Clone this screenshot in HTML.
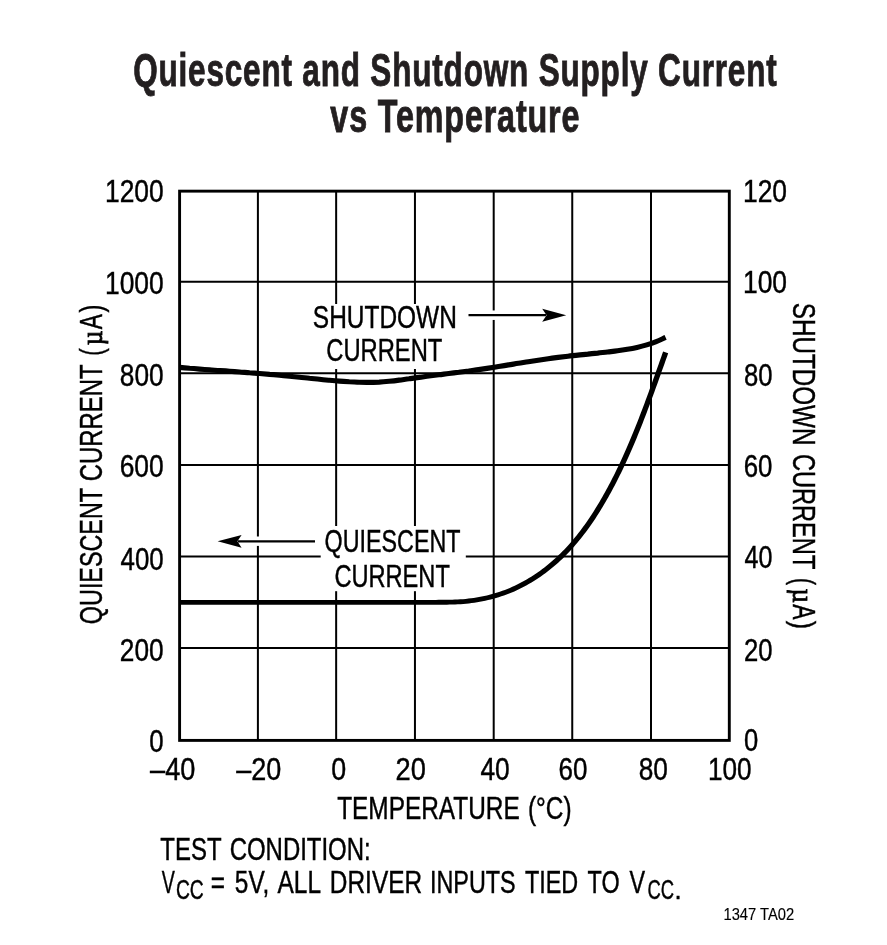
<!DOCTYPE html>
<html lang="en"><head><meta charset="utf-8"><title>Quiescent and Shutdown Supply Current vs Temperature</title>
<style>html,body{margin:0;padding:0;background:#fff}svg{display:block;font-family:"Liberation Sans",sans-serif}</style></head>
<body><svg width="887" height="945" viewBox="0 0 887 945" fill="#000">
<rect width="887" height="945" fill="#fff"/>
<path d="M257.9 191.15V740.4M336.15 191.15V740.4M414.95 191.15V740.4M493.7 191.15V740.4M572.25 191.15V740.4M651 191.15V740.4M179.6 281.65H729.3M179.6 373.25H729.3M179.6 465.1H729.3M179.6 556.6H729.3M179.6 648H729.3" fill="none" stroke="#000" stroke-width="2.0"/>
<rect x="312" y="304" width="146" height="65" fill="#fff"/>
<rect x="464" y="310.45" width="100" height="9.5" fill="#fff"/>
<rect x="320.7" y="526" width="145.1" height="65.2" fill="#fff"/>
<rect x="216" y="536.5" width="104" height="9.4" fill="#fff"/>
<rect x="179.6" y="191.15" width="549.7" height="549.25" fill="none" stroke="#000" stroke-width="2.9"/>
<path d="M468.5 315.2H546" fill="none" stroke="#000" stroke-width="2.2"/>
<path d="M566.2 315.2L542.2 308.8L546.6 315.2L542.2 321.7Z" fill="#000"/>
<path d="M315 541.3H238" fill="none" stroke="#000" stroke-width="2.2"/>
<path d="M217.6 541.3L241.6 535.0L237.4 541.3L241.6 547.7Z" fill="#000"/>
<path d="M179.6 367.4C182.9 367.7 186.3 368.0 189.6 368.3C192.9 368.5 196.3 368.8 199.6 369.1C202.9 369.3 206.3 369.6 209.6 369.8C212.9 370.1 216.3 370.3 219.6 370.6C222.9 370.8 226.3 371.0 229.6 371.3C232.9 371.5 236.3 371.8 239.6 372.0C242.9 372.3 246.3 372.5 249.6 372.8C252.9 373.0 256.2 373.3 259.6 373.5C262.9 373.8 266.2 374.1 269.6 374.4C272.9 374.6 276.2 374.9 279.5 375.2C282.9 375.6 286.2 375.9 289.5 376.2C292.8 376.5 296.2 376.9 299.5 377.2C302.8 377.6 306.1 377.9 309.5 378.3C312.8 378.6 316.1 379.0 319.4 379.3C322.7 379.7 326.1 380.0 329.4 380.3C332.7 380.6 336.0 380.9 339.4 381.1C342.7 381.4 346.0 381.6 349.3 381.8C352.6 381.9 356.0 382.1 359.3 382.2C362.6 382.3 365.9 382.4 369.2 382.3C372.6 382.3 375.9 382.2 379.2 382.1C382.5 381.9 385.8 381.6 389.1 381.3C392.5 381.0 395.8 380.6 399.1 380.1C402.4 379.7 405.7 379.2 409.0 378.8C412.4 378.3 415.7 377.8 419.0 377.4C422.3 376.9 425.6 376.5 428.9 376.0C432.3 375.6 435.6 375.2 438.9 374.8C442.2 374.4 445.5 373.9 448.8 373.5C452.1 373.1 455.5 372.7 458.8 372.3C462.1 371.8 465.4 371.4 468.7 371.0C472.0 370.5 475.3 370.1 478.6 369.6C482.0 369.1 485.3 368.6 488.6 368.1C491.9 367.6 495.2 367.1 498.5 366.5C501.8 366.0 505.1 365.5 508.5 364.9C511.8 364.4 515.1 363.8 518.4 363.3C521.7 362.8 525.0 362.2 528.3 361.7C531.6 361.2 534.9 360.7 538.2 360.2C541.6 359.7 544.9 359.2 548.2 358.7C551.5 358.2 554.8 357.8 558.1 357.4C561.4 357.0 564.7 356.6 568.0 356.2C571.3 355.8 574.6 355.5 577.9 355.1C581.2 354.8 584.5 354.4 587.8 354.1C591.1 353.7 594.4 353.4 597.7 353.1C601.0 352.7 604.3 352.4 607.6 352.0C610.9 351.6 614.2 351.3 617.5 350.8C620.7 350.4 624.0 349.9 627.3 349.3C630.6 348.8 633.8 348.2 637.0 347.4C640.3 346.7 643.5 345.9 646.7 344.9C649.9 343.9 653.1 342.9 656.2 341.6C659.4 340.4 662.5 338.8 665.6 337.4" fill="none" stroke="#000" stroke-width="5.15"/>
<path d="M179.60 604.70L300.00 604.70L420.00 604.70L425.00 604.70L427.73 604.70L430.47 604.70L433.20 604.69L435.93 604.68L438.65 604.67L441.39 604.66L444.13 604.65L446.87 604.63L449.62 604.58L452.37 604.52L455.12 604.42L457.88 604.30L460.64 604.13L463.40 603.93L466.15 603.68L468.91 603.40L471.65 603.06L474.40 602.69L477.14 602.27L479.87 601.80L482.59 601.29L485.31 600.73L488.01 600.12L490.71 599.47L493.39 598.77L496.06 598.02L498.72 597.22L501.36 596.37L503.99 595.47L506.60 594.52L509.19 593.52L511.77 592.47L514.32 591.38L516.85 590.23L519.35 589.04L521.84 587.80L524.30 586.52L526.74 585.20L529.15 583.83L531.54 582.43L533.91 580.98L536.25 579.49L538.56 577.97L540.85 576.40L543.12 574.80L545.35 573.17L547.56 571.50L549.75 569.79L551.90 568.05L554.03 566.28L556.13 564.48L558.21 562.64L560.25 560.78L562.27 558.88L564.26 556.95L566.22 555.00L568.15 553.02L570.05 551.01L571.93 548.98L573.77 546.92L575.59 544.84L577.39 542.74L579.15 540.61L580.89 538.47L582.60 536.31L584.29 534.12L585.96 531.92L587.59 529.70L589.21 527.47L590.80 525.22L592.37 522.95L593.92 520.67L595.44 518.38L596.95 516.07L598.43 513.76L599.89 511.43L601.34 509.08L602.76 506.73L604.17 504.37L605.56 502.00L606.93 499.62L608.29 497.23L609.63 494.83L610.95 492.42L612.26 490.01L613.56 487.59L614.84 485.16L616.10 482.72L617.35 480.28L618.59 477.83L619.81 475.37L621.02 472.91L622.22 470.44L623.40 467.97L624.57 465.49L625.73 463.00L626.88 460.51L628.02 458.01L629.14 455.51L630.25 453.01L631.35 450.50L632.44 447.98L633.52 445.46L634.59 442.94L635.66 440.42L636.71 437.89L637.75 435.35L638.78 432.82L639.81 430.28L640.83 427.74L641.83 425.19L642.84 422.64L643.83 420.09L644.82 417.54L645.80 414.99L646.77 412.43L647.74 409.87L648.70 407.31L649.66 404.75L650.61 402.19L651.56 399.62L652.50 397.05L653.44 394.49L654.38 391.92L655.31 389.35L656.24 386.78L657.17 384.21L658.09 381.64L659.01 379.07L659.93 376.49L660.85 373.92L661.76 371.35L662.68 368.78L663.59 366.20L664.51 363.63L665.42 361.06L666.34 358.49L667.25 355.92L668.17 353.35L663.13 351.55L662.21 354.12L661.30 356.70L660.38 359.27L659.47 361.84L658.55 364.41L657.64 366.98L656.72 369.55L655.81 372.12L654.89 374.69L653.97 377.26L653.05 379.83L652.13 382.40L651.21 384.96L650.28 387.53L649.35 390.09L648.42 392.65L647.48 395.21L646.54 397.77L645.60 400.33L644.65 402.88L643.69 405.43L642.74 407.98L641.77 410.53L640.80 413.07L639.83 415.62L638.84 418.16L637.85 420.69L636.86 423.23L635.85 425.76L634.84 428.28L633.83 430.81L632.80 433.33L631.76 435.84L630.72 438.35L629.67 440.86L628.60 443.36L627.53 445.86L626.45 448.36L625.36 450.85L624.25 453.33L623.14 455.81L622.02 458.28L620.88 460.75L619.73 463.21L618.57 465.67L617.40 468.12L616.21 470.56L615.02 473.00L613.81 475.43L612.58 477.85L611.35 480.27L610.10 482.68L608.83 485.08L607.55 487.47L606.26 489.86L604.95 492.24L603.63 494.60L602.29 496.96L600.93 499.31L599.57 501.65L598.18 503.98L596.78 506.30L595.36 508.60L593.92 510.90L592.46 513.18L590.99 515.45L589.49 517.70L587.97 519.94L586.44 522.17L584.88 524.38L583.30 526.57L581.70 528.75L580.07 530.90L578.43 533.04L576.75 535.16L575.06 537.26L573.34 539.34L571.59 541.40L569.82 543.43L568.03 545.44L566.21 547.43L564.36 549.39L562.48 551.32L560.58 553.23L558.66 555.10L556.70 556.95L554.72 558.77L552.71 560.56L550.68 562.32L548.61 564.05L546.53 565.75L544.41 567.41L542.27 569.04L540.11 570.64L537.92 572.20L535.71 573.73L533.47 575.22L531.21 576.67L528.92 578.08L526.61 579.45L524.28 580.79L521.93 582.08L519.55 583.33L517.15 584.54L514.73 585.70L512.29 586.82L509.83 587.89L507.35 588.91L504.85 589.89L502.34 590.81L499.80 591.69L497.25 592.52L494.68 593.31L492.10 594.04L489.50 594.73L486.90 595.38L484.28 595.97L481.64 596.52L479.00 597.03L476.35 597.49L473.70 597.90L471.03 598.28L468.36 598.61L465.68 598.89L463.00 599.14L460.32 599.34L457.62 599.50L454.93 599.62L452.23 599.72L449.52 599.78L446.81 599.83L444.09 599.85L441.37 599.86L438.64 599.87L435.91 599.88L433.18 599.89L430.45 599.90L427.73 599.90L425.00 599.90L420.00 599.90L300.00 599.90L179.60 599.90Z" fill="#000"/>
<text transform="translate(133.17,86.4) scale(0.6847,1)" font-size="46" font-weight="bold" fill="#231f20" letter-spacing="1.2" stroke="#231f20" stroke-width="0.9">Quiescent and Shutdown Supply Current</text>
<text transform="translate(330.35,131.8) scale(0.7023,1)" font-size="46" font-weight="bold" fill="#231f20" letter-spacing="1.2" stroke="#231f20" stroke-width="0.9">vs Temperature</text>
<text transform="translate(105.02,202) scale(0.8375,1)" font-size="31.5" stroke="#000" stroke-width="0.45">1200</text>
<text transform="translate(105.02,294.4) scale(0.8375,1)" font-size="31.5" stroke="#000" stroke-width="0.45">1000</text>
<text transform="translate(119.86,386.1) scale(0.8338,1)" font-size="31.5" stroke="#000" stroke-width="0.45">800</text>
<text transform="translate(119.64,477.4) scale(0.8380,1)" font-size="31.5" stroke="#000" stroke-width="0.45">600</text>
<text transform="translate(120.49,569.6) scale(0.8216,1)" font-size="31.5" stroke="#000" stroke-width="0.45">400</text>
<text transform="translate(119.86,661.05) scale(0.8338,1)" font-size="31.5" stroke="#000" stroke-width="0.45">200</text>
<text transform="translate(149.28,752.35) scale(0.8194,1)" font-size="31.5" stroke="#000" stroke-width="0.45">0</text>
<text transform="translate(743.01,201.7) scale(0.8386,1)" font-size="31.5" stroke="#000" stroke-width="0.45">120</text>
<text transform="translate(743.01,292.9) scale(0.8386,1)" font-size="31.5" stroke="#000" stroke-width="0.45">100</text>
<text transform="translate(743.88,385.7) scale(0.8153,1)" font-size="31.5" stroke="#000" stroke-width="0.45">80</text>
<text transform="translate(743.67,476.85) scale(0.8215,1)" font-size="31.5" stroke="#000" stroke-width="0.45">60</text>
<text transform="translate(744.5,568) scale(0.7970,1)" font-size="31.5" stroke="#000" stroke-width="0.45">40</text>
<text transform="translate(743.88,660.55) scale(0.8153,1)" font-size="31.5" stroke="#000" stroke-width="0.45">20</text>
<text transform="translate(744.09,751.2) scale(0.8129,1)" font-size="31.5" stroke="#000" stroke-width="0.45">0</text>
<text transform="translate(150.12,779.9) scale(0.8618,1)" font-size="31.5" stroke="#000" stroke-width="0.45">–40</text>
<text transform="translate(236.21,779.9) scale(0.8560,1)" font-size="31.5" stroke="#000" stroke-width="0.45">–20</text>
<text transform="translate(331.35,779.9) scale(0.8516,1)" font-size="31.5" stroke="#000" stroke-width="0.45">0</text>
<text transform="translate(395.62,779.9) scale(0.8641,1)" font-size="31.5" stroke="#000" stroke-width="0.45">20</text>
<text transform="translate(480.38,779.9) scale(0.8358,1)" font-size="31.5" stroke="#000" stroke-width="0.45">40</text>
<text transform="translate(558.56,779.9) scale(0.8246,1)" font-size="31.5" stroke="#000" stroke-width="0.45">60</text>
<text transform="translate(638.66,779.9) scale(0.8336,1)" font-size="31.5" stroke="#000" stroke-width="0.45">80</text>
<text transform="translate(708.03,779.9) scale(0.8305,1)" font-size="31.5" stroke="#000" stroke-width="0.45">100</text>
<text transform="translate(337.21,819.2) scale(0.7747,1)" font-size="31.5" word-spacing="2.0" stroke="#000" stroke-width="0.45">TEMPERATURE (°C)</text>
<text transform="translate(160.32,860) scale(0.7609,1)" font-size="31.5" word-spacing="2.5" stroke="#000" stroke-width="0.45">TEST CONDITION:</text>
<text transform="translate(312.83,328) scale(0.7769,1)" font-size="31.5" stroke="#000" stroke-width="0.45">SHUTDOWN</text>
<text transform="translate(326.27,361) scale(0.7539,1)" font-size="31.5" stroke="#000" stroke-width="0.45">CURRENT</text>
<text transform="translate(324.57,552.3) scale(0.7401,1)" font-size="31.5" stroke="#000" stroke-width="0.45">QUIESCENT</text>
<text transform="translate(334.38,587.2) scale(0.7500,1)" font-size="31.5" stroke="#000" stroke-width="0.45">CURRENT</text>
<text transform="translate(723.48,920) scale(0.8932,1)" font-size="16.5" stroke="#000" stroke-width="0.15">1347 TA02</text>
<text transform="translate(161.76,892.6) scale(0.6233,1)" font-size="31.5" stroke="#000" stroke-width="0.45">V</text>
<text transform="translate(175.92,899.1) scale(0.7020,1)" font-size="27.5" stroke="#000" stroke-width="0.45">CC</text>
<text transform="translate(210.83,892.6) scale(0.7752,1)" font-size="31.5" word-spacing="3.8" stroke="#000" stroke-width="0.45">= 5V, ALL DRIVER</text>
<text transform="translate(429.96,892.6) scale(0.7419,1)" font-size="31.5" word-spacing="4.5" stroke="#000" stroke-width="0.45">INPUTS TIED TO V</text>
<text transform="translate(647.46,899.1) scale(0.6702,1)" font-size="27.5" stroke="#000" stroke-width="0.45">CC</text>
<text transform="translate(674.5,899.1) scale(0.9333,1)" font-size="27.5" stroke="#000" stroke-width="0.45">.</text>
<g transform="translate(102.2,623.2) rotate(-90)"><text transform="translate(-0.93,0) scale(0.7412,1)" font-size="31.5" stroke="#000" stroke-width="0.45">QUIESCENT</text><text transform="translate(141.86,0) scale(0.7592,1)" font-size="31.5" stroke="#000" stroke-width="0.45">CURRENT</text><text transform="translate(267.36,0) scale(0.7111,1)" font-size="31.5" stroke="#000" stroke-width="0.45">(</text><text transform="translate(277.86,0) scale(0.8762,1)" font-size="29" font-family="'Liberation Serif',serif" stroke="#000" stroke-width="0.9">µ</text><text transform="translate(293.98,0) scale(0.7163,1)" font-size="31.5" stroke="#000" stroke-width="0.45">A</text><text transform="translate(310.69,0) scale(0.7556,1)" font-size="31.5" stroke="#000" stroke-width="0.45">)</text></g>
<g transform="translate(793.0,303.7) rotate(90)"><text transform="translate(-0.96,0) scale(0.7698,1)" font-size="31.5" stroke="#000" stroke-width="0.45">SHUTDOWN</text><text transform="translate(150.18,0) scale(0.7500,1)" font-size="31.5" stroke="#000" stroke-width="0.45">CURRENT</text><text transform="translate(274.41,0) scale(0.6778,1)" font-size="31.5" stroke="#000" stroke-width="0.45">(</text><text transform="translate(284.87,0) scale(0.8635,1)" font-size="29" font-family="'Liberation Serif',serif" stroke="#000" stroke-width="0.9">µ</text><text transform="translate(300.48,0) scale(0.7302,1)" font-size="31.5" stroke="#000" stroke-width="0.45">A</text><text transform="translate(317,0) scale(0.8000,1)" font-size="31.5" stroke="#000" stroke-width="0.45">)</text></g>
</svg></body></html>
